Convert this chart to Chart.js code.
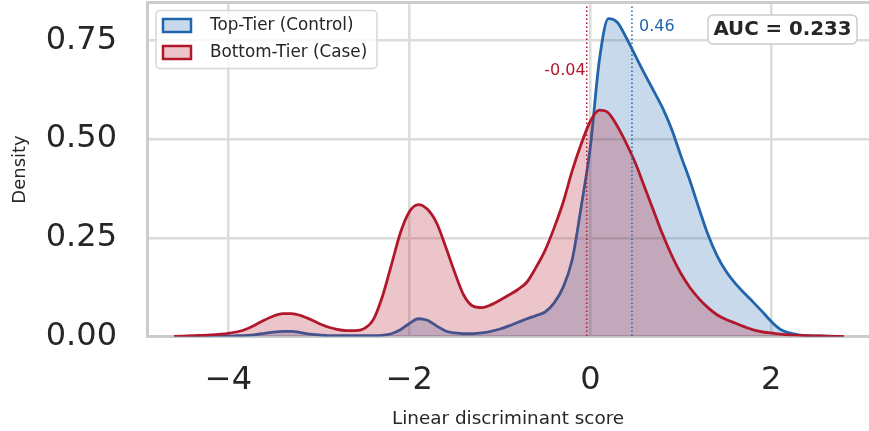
<!DOCTYPE html>
<html>
<head>
<meta charset="utf-8">
<script src="https://cdn.jsdelivr.net/npm/chart.js@4.4.1/dist/chart.umd.min.js"></script>
<style>
  html, body { margin: 0; padding: 0; background: #fff; }
  #wrap { width: 869px; height: 431px; }
</style>
</head>
<body>
<div id="wrap"><canvas id="kdeChart" width="869" height="431"></canvas></div>
<script>
// x grid of the density curves (linear discriminant score)
const xs = [-4.6, -4.4, -4.2, -4.0, -3.9, -3.8, -3.7, -3.6, -3.5, -3.4, -3.3, -3.2, -3.1, -3.0,
  -2.9, -2.8, -2.7, -2.6, -2.5, -2.4, -2.3, -2.2, -2.1, -2.0, -1.9, -1.8, -1.7, -1.6, -1.5,
  -1.4, -1.3, -1.2, -1.1, -1.0, -0.9, -0.8, -0.7, -0.6, -0.5, -0.4, -0.3, -0.2, -0.1,
  0.0, 0.1, 0.2, 0.3, 0.4, 0.5, 0.6, 0.7, 0.8, 0.9, 1.0, 1.1, 1.2, 1.3, 1.4, 1.5,
  1.6, 1.7, 1.8, 1.9, 2.0, 2.1, 2.2, 2.3, 2.4, 2.6, 2.8];

// Top-Tier (Control) density
const topTier = [0.000, 0.000, 0.001, 0.001, 0.002, 0.003, 0.005, 0.008, 0.011, 0.013, 0.013, 0.010, 0.006, 0.004,
  0.002, 0.002, 0.002, 0.002, 0.002, 0.002, 0.003, 0.007, 0.017, 0.033, 0.045, 0.041, 0.027, 0.014, 0.009,
  0.007, 0.007, 0.009, 0.013, 0.019, 0.027, 0.036, 0.045, 0.053, 0.062, 0.085, 0.125, 0.195, 0.330,
  0.480, 0.700, 0.805, 0.795, 0.755, 0.710, 0.665, 0.622, 0.578, 0.524, 0.458, 0.395, 0.325, 0.258, 0.205, 0.165,
  0.135, 0.110, 0.087, 0.063, 0.038, 0.018, 0.009, 0.004, 0.002, 0.001, 0.000];

// Bottom-Tier (Case) density
const bottomTier = [0.000, 0.002, 0.004, 0.008, 0.012, 0.019, 0.030, 0.042, 0.052, 0.058, 0.058, 0.053, 0.044, 0.033,
  0.024, 0.018, 0.015, 0.015, 0.020, 0.042, 0.100, 0.180, 0.262, 0.316, 0.334, 0.322, 0.288, 0.228, 0.163,
  0.105, 0.077, 0.073, 0.080, 0.092, 0.105, 0.119, 0.138, 0.175, 0.218, 0.275, 0.340, 0.420, 0.488,
  0.545, 0.573, 0.566, 0.532, 0.488, 0.438, 0.378, 0.318, 0.258, 0.205, 0.160, 0.124, 0.096, 0.073, 0.055, 0.043,
  0.034, 0.025, 0.017, 0.012, 0.009, 0.006, 0.004, 0.003, 0.002, 0.001, 0.000];

const seriesLabels = ['Top-Tier (Control)', 'Bottom-Tier (Case)'];
const medianValues = [0.46, -0.04];
const medianLabels = ['0.46', '-0.04'];
const aucText = 'AUC = 0.233';

const BLUE = '#2166ac';
const RED = '#b2182b';
const BLUE_FILL = 'rgba(33, 102, 172, 0.25)';
const RED_FILL = 'rgba(178, 24, 43, 0.25)';
const TEXT = '#262626';
const FONT = "'DejaVu Sans', sans-serif";

Chart.defaults.font.family = FONT;
Chart.defaults.color = TEXT;

function roundRect(ctx, x, y, w, h, r) {
  ctx.beginPath();
  ctx.moveTo(x + r, y);
  ctx.arcTo(x + w, y, x + w, y + h, r);
  ctx.arcTo(x + w, y + h, x, y + h, r);
  ctx.arcTo(x, y + h, x, y, r);
  ctx.arcTo(x, y, x + w, y, r);
  ctx.closePath();
}

// median lines, top spine, legend and AUC box
const overlays = {
  id: 'overlays',
  afterDatasetsDraw(chart) {
    const ctx = chart.ctx;
    const area = chart.chartArea;
    const xScale = chart.scales.x;
    const colors = [BLUE, RED];
    ctx.save();
    medianValues.forEach((v, i) => {
      const px = xScale.getPixelForValue(v);
      ctx.strokeStyle = colors[i];
      ctx.lineWidth = 1.5;
      ctx.setLineDash([1.5, 2.5]);
      ctx.beginPath();
      ctx.moveTo(px, area.top);
      ctx.lineTo(px, area.bottom);
      ctx.stroke();
    });
    ctx.setLineDash([]);
    ctx.font = '16px ' + FONT;
    ctx.textBaseline = 'middle';
    ctx.fillStyle = BLUE;
    ctx.textAlign = 'left';
    ctx.fillText(medianLabels[0], xScale.getPixelForValue(medianValues[0]) + 7, 27);
    ctx.fillStyle = RED;
    ctx.textAlign = 'right';
    ctx.fillText(medianLabels[1], xScale.getPixelForValue(medianValues[1]) - 1, 71);

    // top spine
    ctx.strokeStyle = '#cccccc';
    ctx.lineWidth = 3;
    ctx.beginPath();
    ctx.moveTo(area.left, area.top);
    ctx.lineTo(area.right, area.top);
    ctx.stroke();
    ctx.restore();
  },
  afterDraw(chart) {
    const ctx = chart.ctx;
    ctx.save();
    // legend
    roundRect(ctx, 156, 10.5, 221, 58, 4);
    ctx.fillStyle = 'rgba(255,255,255,0.8)';
    ctx.fill();
    ctx.strokeStyle = '#d6d6d6';
    ctx.lineWidth = 1.5;
    ctx.stroke();
    const fills = [BLUE_FILL, RED_FILL];
    const lines = [BLUE, RED];
    seriesLabels.forEach((lab, i) => {
      const cy = 25.5 + i * 27;
      ctx.fillStyle = '#fff';
      ctx.fillRect(163, cy - 6.5, 28, 13);
      ctx.fillStyle = fills[i];
      ctx.fillRect(163, cy - 6.5, 28, 13);
      ctx.strokeStyle = lines[i];
      ctx.lineWidth = 2.5;
      ctx.strokeRect(163, cy - 6.5, 28, 13);
      ctx.fillStyle = TEXT;
      ctx.font = '16.8px ' + FONT;
      ctx.textAlign = 'left';
      ctx.textBaseline = 'middle';
      ctx.fillText(lab, 210, cy);
    });
    // AUC box
    roundRect(ctx, 708, 15, 149, 29, 5);
    ctx.fillStyle = '#ffffff';
    ctx.fill();
    ctx.strokeStyle = '#cccccc';
    ctx.lineWidth = 1.5;
    ctx.stroke();
    ctx.fillStyle = TEXT;
    ctx.font = 'bold 19.8px ' + FONT;
    ctx.textAlign = 'center';
    ctx.textBaseline = 'middle';
    ctx.fillText(aucText, 782.5, 30);
    ctx.restore();
  }
};

const ctx = document.getElementById('kdeChart').getContext('2d');

const kdeChart = new Chart(ctx, {
  type: 'line',
  data: {
    datasets: [
      {
        label: seriesLabels[0],
        data: xs.map((x, i) => ({ x: x, y: topTier[i] })),
        borderColor: BLUE,
        backgroundColor: BLUE_FILL,
        fill: 'origin',
        borderWidth: 2.8,
        pointRadius: 0,
        cubicInterpolationMode: 'monotone',
        order: 1
      },
      {
        label: seriesLabels[1],
        data: xs.map((x, i) => ({ x: x, y: bottomTier[i] })),
        borderColor: RED,
        backgroundColor: RED_FILL,
        fill: 'origin',
        borderWidth: 2.8,
        pointRadius: 0,
        cubicInterpolationMode: 'monotone',
        order: 0
      }
    ]
  },
  options: {
    responsive: false,
    animation: false,
    devicePixelRatio: 1,
    layout: { padding: { top: 2.5, right: 0, bottom: 0, left: 0 } },
    plugins: {
      legend: { display: false },
      tooltip: { enabled: false }
    },
    scales: {
      x: {
        type: 'linear',
        min: -4.9,
        max: 3.08,
        afterFit: (s) => {
          s.height = 94.5;
          s.paddingLeft = 0;
          s.paddingRight = 0;
        },
        grid: { color: '#dcdcdc', lineWidth: 2.5, drawTicks: false },
        border: { color: '#cccccc', width: 3 },
        ticks: {
          stepSize: 2,
          includeBounds: false,
          autoSkip: false,
          maxRotation: 0,
          padding: 25,
          font: { size: 32 },
          color: TEXT,
          callback: (v) => (v < 0 ? '\u2212' + Math.abs(v) : String(v))
        },
        title: {
          display: true,
          text: 'Linear discriminant score',
          font: { size: 18.4 },
          color: TEXT,
          padding: { top: 0, bottom: 1 }
        }
      },
      y: {
        min: 0,
        max: 0.8456,
        afterFit: (s) => {
          s.width = 147;
          s.paddingTop = 0;
          s.paddingBottom = 0;
        },
        grid: { color: '#dcdcdc', lineWidth: 2.5, drawTicks: false },
        border: { color: '#cccccc', width: 3 },
        ticks: {
          stepSize: 0.25,
          includeBounds: false,
          padding: 30,
          font: { size: 32 },
          color: TEXT,
          callback: (v) => v.toFixed(2)
        },
        title: {
          display: true,
          text: 'Density',
          font: { size: 18 },
          color: TEXT,
          padding: { top: 10, bottom: 0 }
        }
      }
    }
  },
  plugins: [overlays]
});
</script>
</body>
</html>
